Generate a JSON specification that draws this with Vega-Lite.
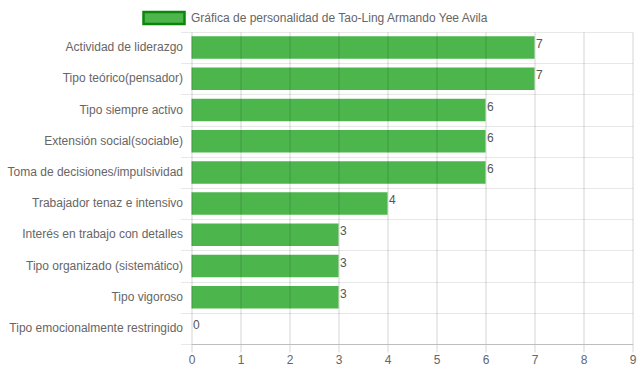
{
  "$schema": "https://vega.github.io/schema/vega-lite/v6.json",
  "width": 441,
  "height": 312,
  "autosize": {"type": "none"},
  "padding": {"left": 191.5, "top": 32, "right": 6.5, "bottom": 28},
  "background": "white",
  "config": {
    "view": {"stroke": null},
    "font": "Liberation Sans"
  },
  "data": {
    "values": [
      {"rasgo": "Actividad de liderazgo", "valor": 7, "serie": "Gráfica de personalidad de Tao-Ling Armando Yee Avila"},
      {"rasgo": "Tipo teórico(pensador)", "valor": 7, "serie": "Gráfica de personalidad de Tao-Ling Armando Yee Avila"},
      {"rasgo": "Tipo siempre activo", "valor": 6, "serie": "Gráfica de personalidad de Tao-Ling Armando Yee Avila"},
      {"rasgo": "Extensión social(sociable)", "valor": 6, "serie": "Gráfica de personalidad de Tao-Ling Armando Yee Avila"},
      {"rasgo": "Toma de decisiones/impulsividad", "valor": 6, "serie": "Gráfica de personalidad de Tao-Ling Armando Yee Avila"},
      {"rasgo": "Trabajador tenaz e intensivo", "valor": 4, "serie": "Gráfica de personalidad de Tao-Ling Armando Yee Avila"},
      {"rasgo": "Interés en trabajo con detalles", "valor": 3, "serie": "Gráfica de personalidad de Tao-Ling Armando Yee Avila"},
      {"rasgo": "Tipo organizado (sistemático)", "valor": 3, "serie": "Gráfica de personalidad de Tao-Ling Armando Yee Avila"},
      {"rasgo": "Tipo vigoroso", "valor": 3, "serie": "Gráfica de personalidad de Tao-Ling Armando Yee Avila"},
      {"rasgo": "Tipo emocionalmente restringido", "valor": 0, "serie": "Gráfica de personalidad de Tao-Ling Armando Yee Avila"}
    ]
  },
  "encoding": {
    "y": {
      "field": "rasgo",
      "type": "nominal",
      "sort": null,
      "scale": {"paddingInner": 0, "paddingOuter": 0},
      "axis": {
        "title": null,
        "domain": false,
        "tickBand": "extent",
        "grid": true,
        "gridColor": "#e8e8e8",
        "gridWidth": 1,
        "tickColor": "#e8e8e8",
        "tickSize": 11,
        "labelPadding": -2,
        "labelOffset": -1,
        "labelFont": "Liberation Sans",
        "labelFontSize": 12,
        "labelColor": "#666666",
        "labelLimit": 300
      }
    },
    "x": {
      "field": "valor",
      "type": "quantitative",
      "scale": {"domain": [0, 9], "nice": false},
      "axis": {
        "title": null,
        "values": [0, 1, 2, 3, 4, 5, 6, 7, 8, 9],
        "zindex": 1,
        "grid": true,
        "gridColor": "#000000",
        "gridOpacity": 0.17,
        "domainColor": "#bdbdbd",
        "tickColor": "#000000",
        "tickOpacity": 0.17,
        "tickSize": 8,
        "labelPadding": 2,
        "labelFont": "Liberation Sans",
        "labelFontSize": 12,
        "labelColor": "#666666",
        "labelFlush": false
      }
    }
  },
  "layer": [
    {
      "mark": {"type": "bar", "height": {"band": 0.72}},
      "encoding": {
        "color": {
          "field": "serie",
          "type": "nominal",
          "scale": {"range": ["#4cb64c"]},
          "legend": {
            "title": null,
            "orient": "none",
            "legendX": -49.5,
            "legendY": -36,
            "padding": 0,
            "symbolType": "M-1,-0.293H1V0.293H-1Z",
            "symbolSize": 1681,
            "symbolStrokeColor": "#0b860b",
            "symbolStrokeWidth": 2.5,
            "symbolOpacity": 1,
            "labelOffset": 5,
            "labelFont": "Liberation Sans",
            "labelFontSize": 12,
            "labelColor": "#666666",
            "labelLimit": 500
          }
        }
      }
    },
    {
      "mark": {"type": "text", "align": "left", "baseline": "middle", "dx": 1.5, "dy": -3.5, "fontSize": 12, "color": "#555555", "font": "Liberation Sans"},
      "encoding": {
        "text": {"field": "valor", "type": "quantitative"}
      }
    }
  ]
}
